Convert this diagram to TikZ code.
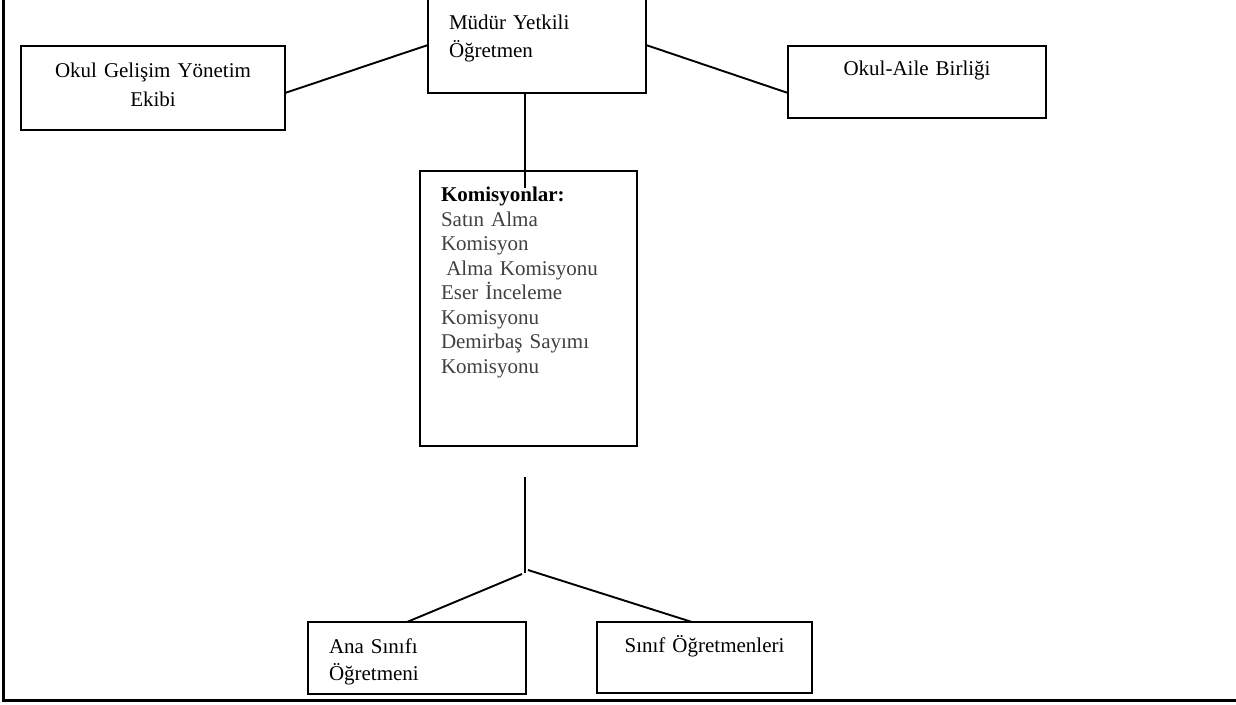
\documentclass[tikz,border=0pt]{standalone}
\usepackage{fontspec}
\setmainfont{Liberation Serif}
\usetikzlibrary{calc}

\begin{document}
\begin{tikzpicture}[x=1pt,y=-1pt]
     \tikzstyle{unit}=[draw, line width=2pt, anchor=north west, outer sep=0pt,
       inner ysep=0pt, inner xsep=0pt]
     \tikzstyle{link}=[line width=1.9pt]

     \useasboundingbox (0,0) rectangle (1236,704);

     % frame of the page
     \draw[line width=3pt] (3,-5) -- (3,700) -- (1240,700);

     \node[unit] (mudur) at (428,-3) [inner xsep=21pt, text width=176pt, align=left,
       text height=32pt, text depth=64pt, font=\fontsize{21}{28}\selectfont]
       {Müdür Yetkili\\Öğretmen};
     \node[unit] (ogye) at (21,46) [text width=264pt, align=center,
       text height=31pt, text depth=53pt, font=\fontsize{21}{29}\selectfont]
       {Okul Gelişim Yönetim\\Ekibi};
     \node[unit] (aile) at (788,46) [text width=258pt, align=center,
       text height=29pt, text depth=43pt, font=\fontsize{21}{28}\selectfont]
       {Okul-Aile Birliği};
     \node[unit] (kom) at (420,171) [inner xsep=21pt, text width=175pt, align=left,
       text height=30.7pt, text depth=244.3pt, text=black!75,
       font=\fontsize{21}{24.5}\selectfont]
       {\textcolor{black}{\textbf{Komisyonlar:}}\\Satın Alma\\Komisyon\\
        \hspace*{0.25em}Alma Komisyonu\\Eser İnceleme\\Komisyonu\\
        Demirbaş Sayımı\\Komisyonu};
     \node[unit] (ana) at (308,622) [inner xsep=21pt, text width=176pt, align=left,
       text height=31pt, text depth=41pt, font=\fontsize{21}{27}\selectfont]
       {Ana Sınıfı\\Öğretmeni};
     \node[unit] (sinif) at (597,622) [text width=215pt, align=center,
       text height=30.7pt, text depth=40.3pt, font=\fontsize{21}{27}\selectfont]
       {Sınıf Öğretmenleri};

     \draw[link] (mudur.west) -- ($(ogye.east)+(0,5)$);
     \draw[link] (mudur.east) -- ($(aile.west)+(0,11)$);
     \draw[link] ($(mudur.south)+(-12,0)$) -- ($(kom.north)+(-3.5,17)$);

     \coordinate (stem) at (525,477);
     \coordinate (fork) at (525,573);
     \draw[link] (stem) -- (fork);
     \draw[link] ($(fork)+(-3,1)$) -- ($(ana.north)+(-10,0)$);
     \draw[link] ($(fork)+(3,-3)$) -- ($(sinif.north)+(-12.5,0)$);
\end{tikzpicture}
\end{document}
